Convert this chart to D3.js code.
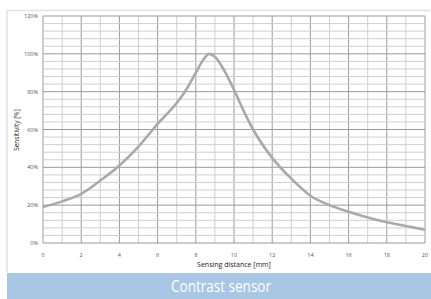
<!DOCTYPE html>
<html><head><meta charset="utf-8">
<script src="https://cdn.jsdelivr.net/npm/d3@7"></script>
<style>body{margin:0;background:#fff}svg{display:block}</style>
</head><body>
<svg id="c" width="431" height="299"></svg>
<script>
const distances = [0,1,2,3,4,5,6,7,7.5,8,8.4,8.7,9,9.5,10,10.5,11,12,13,14,15,16,17,18,19,20];
const sensitivity = [19,22,26,33,41,51,63,74,81,90,97,100,98.5,91,81,70,60,45,34,25,20,16.5,13.5,11,9,7];
const xTicks = [0,2,4,6,8,10,12,14,16,18,20];
const yTicks = [0,20,40,60,80,100,120];
const title = "Contrast sensor";
const xLabel = "Sensing distance [mm]";
const yLabel = "Sensitivity [%]";

const svg = d3.select("#c");
const x = d3.scaleLinear().domain([0,20]).range([43,425]);
const y = d3.scaleLinear().domain([0,120]).range([243,16]);

// frame
svg.append("path").attr("d","M7,272V10.5H430").attr("fill","none").attr("stroke","#e2e2e2").attr("stroke-width",1.5);

// grid
const g = svg.append("g");
g.selectAll("line.mx").data(d3.range(0,21,1)).join("line")
  .attr("x1",d=>x(d)).attr("x2",d=>x(d)).attr("y1",y(0)).attr("y2",y(120))
  .attr("stroke",d=>d%2===0?"#9a9a9a":"#cfcfcf").attr("stroke-width",1);
g.selectAll("line.my").data(d3.range(0,121,4)).join("line")
  .attr("x1",x(0)).attr("x2",x(20)).attr("y1",d=>y(d)).attr("y2",d=>y(d))
  .attr("stroke",d=>d%20===0?"#9a9a9a":"#cfcfcf").attr("stroke-width",1);

// axes labels
const tickFont = "Open Sans, sans-serif";
svg.append("g").selectAll("text").data(yTicks).join("text")
  .attr("x",38).attr("y",d=>y(d)+2).attr("text-anchor","end")
  .attr("font-family",tickFont).attr("font-size",5.5).attr("fill","#555")
  .text(d=>d+"%");
svg.append("g").selectAll("text").data(xTicks).join("text")
  .attr("x",d=>x(d)).attr("y",257).attr("text-anchor","middle")
  .attr("font-family",tickFont).attr("font-size",5.5).attr("fill","#555")
  .text(d=>d);
svg.append("text").attr("x",234).attr("y",267).attr("text-anchor","middle")
  .attr("font-family",tickFont).attr("font-size",7).attr("fill","#222").text(xLabel);
svg.append("text").attr("transform","translate(19,130) rotate(-90)").attr("text-anchor","middle")
  .attr("font-family",tickFont).attr("font-size",6.5).attr("fill","#222").text(yLabel);

// curve
const line = d3.line().x((d,i)=>x(distances[i])).y(d=>y(d)).curve(d3.curveMonotoneX);
svg.append("path").datum(sensitivity).attr("d",line).attr("fill","none")
  .attr("stroke","#a9a9a9").attr("stroke-width",2.6).attr("stroke-linejoin","round");

// band
svg.append("rect").attr("x",7).attr("y",273).attr("width",424).attr("height",26).attr("fill","#a9c6e4");
svg.append("text").attr("x",221).attr("y",292).attr("text-anchor","middle")
  .attr("font-family","Open Sans, sans-serif").attr("font-size",16).attr("fill","#fff")
  .attr("textLength",100).attr("lengthAdjust","spacingAndGlyphs").text(title);
</script>
</body></html>
